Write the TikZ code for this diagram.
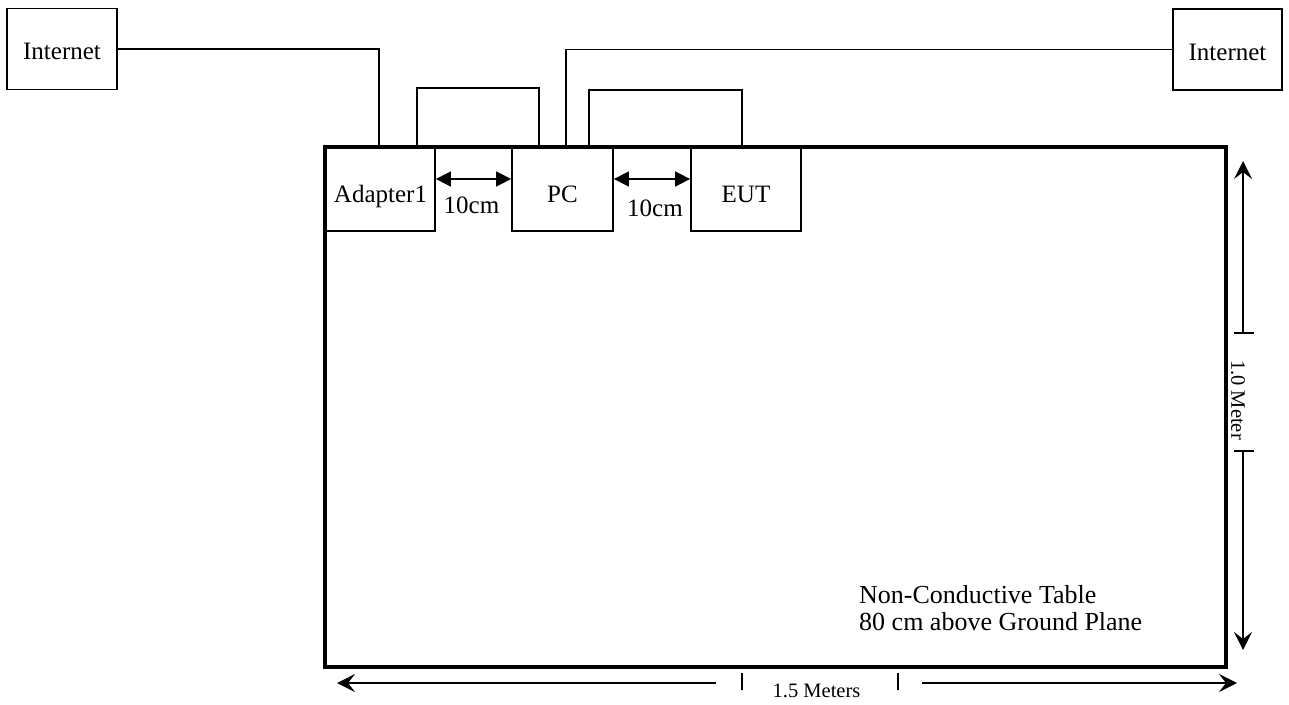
\documentclass[tikz,border=0pt]{standalone}
\usepackage{fontspec}
\setmainfont{Liberation Serif}
\usetikzlibrary{arrows.meta}

\begin{document}
\begin{tikzpicture}[x=1pt,y=-1pt,
  box/.style={draw, line width=1.8pt, inner sep=0pt, text depth=0pt,
    font=\fontsize{25}{30}\selectfont},
  tablebox/.style={draw, line width=3.5pt, inner sep=0pt},
  cable/.style={line width=1.4pt},
  gap/.style={line width=1.6pt,
    {Triangle[length=15pt,width=15pt]}-{Triangle[length=15pt,width=15pt]}},
  dim/.style={line width=1.3pt, -{Stealth[length=18pt,width=18pt,inset=7pt]}},
  tickmark/.style={line width=1.4pt},
  lbl/.style={font=\fontsize{25}{30}\selectfont, inner sep=0pt},
  note/.style={font=\fontsize{26}{30}\selectfont, inner sep=0pt, anchor=base west},
  small/.style={font=\fontsize{20.5}{24}\selectfont, inner sep=0pt}
]
\useasboundingbox (0,0) rectangle (1289,704);

% the table
\node[tablebox, minimum width=901pt, minimum height=520pt] (tbl) at (775.5,407) {};

% equipment on the table
\node[box, minimum width=109pt, minimum height=84pt, text height=26.5pt] (adapter) at (380.5,189) {Adapter1};
\node[box, minimum width=101pt, minimum height=84pt, text height=26.5pt] (pc) at (562.5,189) {PC};
\node[box, minimum width=110pt, minimum height=84pt, text height=26.5pt] (eut) at (746,189) {EUT};

% network ends
\node[box, minimum width=110pt, minimum height=81pt, text height=21.5pt] (inetL) at (62,49) {Internet};
\node[box, minimum width=109pt, minimum height=81pt, text height=21.5pt] (inetR) at (1227.5,49.5) {Internet};

% cables
\draw[cable] (inetL.east) -| ([xshift=-1.5pt]adapter.north);
\draw[cable] (inetR.west) -| ([xshift=3.5pt]pc.north);
\draw[cable] ([xshift=36.5pt]adapter.north) -- ++(0,-58) -| ([xshift=-23.5pt]pc.north);
\draw[cable] ([xshift=26.5pt]pc.north) -- ++(0,-56) -| ([xshift=-4pt]eut.north);

% 10 cm spacings
\draw[gap] ([yshift=10pt]adapter.east) -- ([yshift=10pt]pc.west);
\draw[gap] ([yshift=10pt]pc.east) -- ([yshift=10pt]eut.west);
\node[lbl] (g1) at (471.5,205) {10cm};
\node[lbl] (g2) at (655,208) {10cm};

% table note
\node[note] (n1) at (859,603) {Non-Conductive Table};
\node[note] (n2) at (859,630) {80 cm above Ground Plane};

% depth dimension
\coordinate (vtop) at (1243,161);
\coordinate (vbarA) at (1243,333);
\coordinate (vbarB) at (1243,451);
\coordinate (vbot) at (1243,650);
\draw[dim] (vbarA) -- (vtop);
\draw[dim] (vbarB) -- (vbot);
\draw[tickmark] ([xshift=-9pt]vbarA) -- ([xshift=11pt]vbarA);
\draw[tickmark] ([xshift=-9pt]vbarB) -- ([xshift=11pt]vbarB);
\node[small, rotate=-90] (vlab) at (1238,400) {1.0 Meter};

% width dimension
\coordinate (hL) at (337,683);
\coordinate (hLend) at (716,683);
\coordinate (hRstart) at (922,683);
\coordinate (hR) at (1237,683);
\coordinate (tkA) at (742,673);
\coordinate (tkB) at (898,673);
\draw[dim] (hLend) -- (hL);
\draw[dim] (hRstart) -- (hR);
\draw[tickmark] (tkA) -- ++(0,17);
\draw[tickmark] (tkB) -- ++(0,17);
\node[small, anchor=base] (hlab) at (816.5,697) {1.5 Meters};
\end{tikzpicture}
\end{document}
